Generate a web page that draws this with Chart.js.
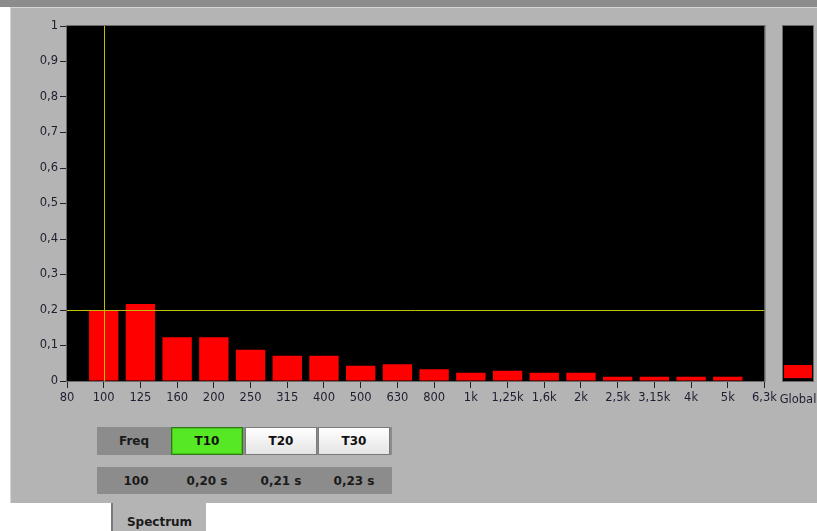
<!DOCTYPE html>
<html>
<head>
<meta charset="utf-8">
<script src="https://cdn.jsdelivr.net/npm/chart.js@4.4.1/dist/chart.umd.min.js"></script>
<style>
  body { margin: 0; width: 817px; height: 531px; overflow: hidden; background: #fff; position: relative;
         font-family: "DejaVu Sans", sans-serif; }
  .abs { position: absolute; }
  #topbar { left: 0; top: 0; width: 817px; height: 7px; background: #8c8c8c; }
  #panel { left: 10px; top: 7px; width: 806px; height: 495px; background: #b4b4b4;
           border-left: 1px solid #d6d6d6; border-top: 1px solid #d6d6d6; }
  canvas { position: absolute; }
  .row { background: #8c8c8c; }
  .cell { position: absolute; top: 0; height: 100%; display: flex; align-items: center; justify-content: center;
          font-weight: bold; font-size: 12px; color: #1a1a1a; }
  .btn { position: absolute; top: 0; height: 26px; width: 70px; border: 1px solid #7a7a7a;
         display: flex; align-items: center; justify-content: center; font-weight: bold; font-size: 12px; color: #111;
         background: linear-gradient(#ffffff, #e4e4e4); }
  .btn.on { background: #56e824; border-color: #2f7a16; box-shadow: inset 0 0 0 1px #45c21c; }
  #tab { left: 111px; top: 503px; width: 93px; height: 28px; background: #b4b4b4; border-left: 2px solid #7a7a7a;
         font-weight: bold; font-size: 12px; color: #1a1a1a; text-align: center; line-height: 38px; }
</style>
</head>
<body>
<div id="topbar" class="abs"></div>
<div id="panel" class="abs"></div>
<canvas id="main" width="770" height="400" style="left:10px;top:10px"></canvas>
<canvas id="glob" width="80" height="400" style="left:760px;top:10px"></canvas>

<div class="abs row" style="left:97px;top:427px;width:295px;height:28px">
  <div class="cell" style="left:0;width:74px">Freq</div>
  <div class="btn on" style="left:74px">T10</div>
  <div class="btn" style="left:148px">T20</div>
  <div class="btn" style="left:221px">T30</div>
</div>
<div class="abs row" style="left:97px;top:467px;width:295px;height:27px">
  <div class="cell" style="left:0;width:78px">100</div>
  <div class="cell" style="left:74px;width:72px">0,20 s</div>
  <div class="cell" style="left:148px;width:72px">0,21 s</div>
  <div class="cell" style="left:221px;width:72px">0,23 s</div>
</div>
<div id="tab" class="abs">Spectrum</div>

<script>
const freqLabels = ['80', '100', '125', '160', '200', '250', '315', '400', '500', '630', '800',
                    '1k', '1,25k', '1,6k', '2k', '2,5k', '3,15k', '4k', '5k', '6,3k'];
const t10Values = [null, 0.198, 0.217, 0.123, 0.123, 0.088, 0.071, 0.071, 0.043, 0.047, 0.033,
                   0.023, 0.029, 0.023, 0.023, 0.012, 0.012, 0.012, 0.012, null];
const globalLabels = ['Global'];
const globalValues = [[0.008, 0.045]];
const cursorFreq = '100';
const cursorLevel = 0.2;

const tickFont = { family: 'DejaVu Sans', size: 11.5 };
const textColor = '#1e1e30';

const plotBg = {
  id: 'plotBg',
  beforeDraw(chart) {
    const { ctx, chartArea: a } = chart;
    ctx.save();
    ctx.fillStyle = '#000';
    ctx.fillRect(a.left, a.top, a.right - a.left, a.bottom - a.top);
    ctx.restore();
  },
  afterDraw(chart) {
    const { ctx, chartArea: a } = chart;
    ctx.save();
    ctx.strokeStyle = '#6a6a6a';
    ctx.lineWidth = 1;
    ctx.strokeRect(a.left - 0.5, a.top - 0.5, a.right - a.left + 1, a.bottom - a.top + 1);
    ctx.restore();
  }
};

const cursor = {
  id: 'cursor',
  afterDatasetsDraw(chart) {
    const { ctx, chartArea: a, scales } = chart;
    const x = Math.round(scales.x.getPixelForValue(freqLabels.indexOf(cursorFreq))) + 0.5;
    const y = Math.round(scales.y.getPixelForValue(cursorLevel)) + 0.5;
    ctx.save();
    ctx.strokeStyle = '#c0c000';
    ctx.lineWidth = 1;
    ctx.beginPath();
    ctx.moveTo(x, a.top); ctx.lineTo(x, a.bottom);
    ctx.moveTo(a.left, y); ctx.lineTo(a.right, y);
    ctx.stroke();
    ctx.restore();
  }
};

new Chart(document.getElementById('main'), {
  type: 'bar',
  data: {
    labels: freqLabels,
    datasets: [{
      label: 'T10',
      data: t10Values,
      backgroundColor: '#ff0000',
      categoryPercentage: 1.0,
      barPercentage: 0.8
    }]
  },
  options: {
    responsive: false,
    animation: false,
    layout: { padding: { top: 16, right: 15, left: 0, bottom: 0 } },
    plugins: { legend: { display: false }, tooltip: { enabled: false } },
    scales: {
      x: {
        offset: false,
        grid: { offset: false, drawOnChartArea: false, tickLength: 7, tickColor: '#222', color: '#222' },
        border: { display: false },
        ticks: { autoSkip: false, maxRotation: 0, font: tickFont, color: textColor, padding: 3 },
        afterFit(s) { s.height = 29; }
      },
      y: {
        min: 0, max: 1,
        grid: { drawOnChartArea: false, tickLength: 7, tickColor: '#222', color: '#222' },
        border: { display: false },
        ticks: {
          stepSize: 0.1, font: tickFont, color: textColor, padding: 2,
          callback: v => { const r = Math.round(v * 10) / 10; return (r === 0 || r === 1) ? String(r) : r.toFixed(1).replace('.', ','); }
        },
        afterFit(s) { s.width = 57; }
      }
    }
  },
  plugins: [plotBg, cursor]
});

new Chart(document.getElementById('glob'), {
  type: 'bar',
  data: {
    labels: globalLabels,
    datasets: [{
      label: 'Global',
      data: globalValues,
      backgroundColor: '#ff0000',
      categoryPercentage: 1.0,
      barPercentage: 0.93
    }]
  },
  options: {
    responsive: false,
    animation: false,
    layout: { padding: { top: 16, right: 27, left: 23, bottom: 0 } },
    plugins: { legend: { display: false }, tooltip: { enabled: false } },
    scales: {
      x: {
        grid: { display: false },
        border: { display: false },
        ticks: { font: tickFont, color: textColor, padding: 4, maxRotation: 0 },
        afterFit(s) { s.height = 29; }
      },
      y: { display: false, min: 0, max: 1 }
    }
  },
  plugins: [plotBg]
});
</script>
</body>
</html>
